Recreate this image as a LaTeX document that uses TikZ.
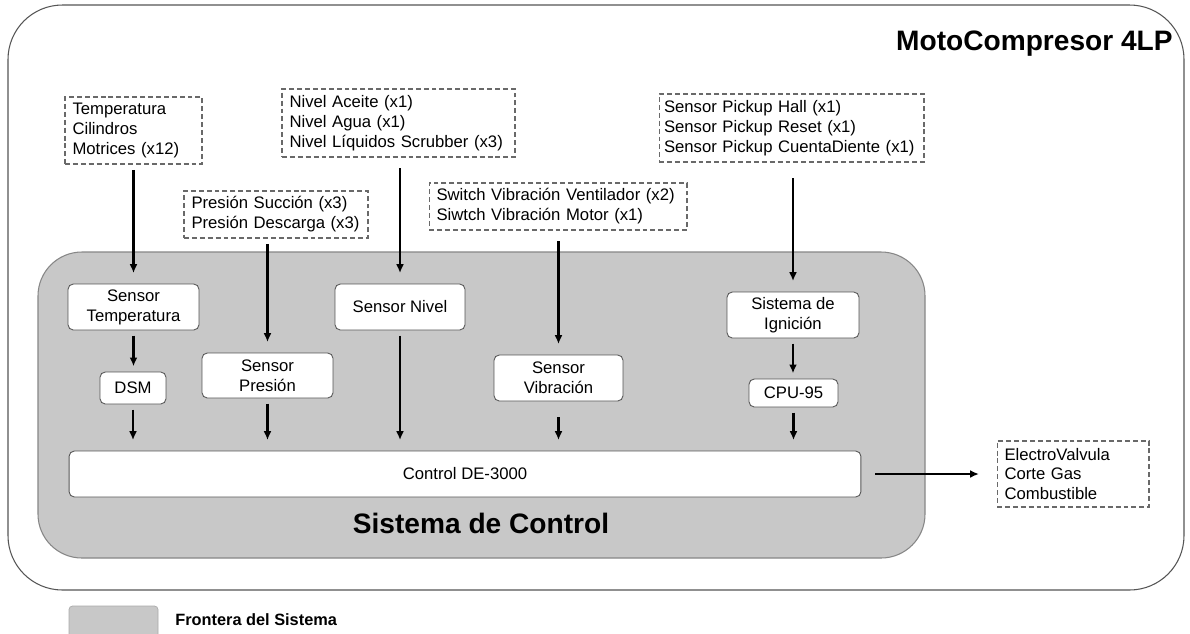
\documentclass[tikz,border=0pt]{standalone}
\usepackage{fontspec}
\setmainfont{Liberation Sans}
\usetikzlibrary{arrows.meta}
\definecolor{frontera}{RGB}{200,200,200}
\definecolor{bordeFrontera}{RGB}{135,135,135}
\definecolor{lineaCaja}{RGB}{85,85,85}
\definecolor{lineaEntrada}{RGB}{105,105,105}

\begin{document}
\begin{tikzpicture}[x=0.02cm, y=-0.02cm, >={Latex[length=5pt,width=4.5pt]},
    texto/.style={font=\fontsize{9.5}{11.3}\selectfont},
    entrada/.style={draw=lineaEntrada, dash pattern=on 2.8pt off 1.7pt, line width=0.6pt,
        align=left, inner xsep=0.15cm, inner ysep=0pt, texto},
    bloque/.style={draw=lineaCaja, fill=white, rounded corners=3pt, line width=0.5pt,
        align=center, inner sep=0pt, texto},
    flecha/.style={->, line width=1.2pt, shorten <=3pt, shorten >=6pt}]
    \useasboundingbox (0,0) rectangle (1190,633);
    \fill[white] (0,0) rectangle (1190,633);

    % Frontera MotoCompresor
    \draw[lineaCaja, line width=0.6pt, rounded corners=31pt] (8,5) rectangle (1184,590);
    \node[anchor=east, inner sep=0pt, font=\bfseries\fontsize{16}{19}\selectfont] (titulo) at (1173,44) {MotoCompresor 4LP};

    % Frontera Sistema de Control
    \draw[bordeFrontera, fill=frontera, line width=0.6pt, rounded corners=25pt] (38,252) rectangle (925,558);
    \node[inner sep=0pt, font=\bfseries\fontsize{16}{19}\selectfont] (sistema) at (481,523) {Sistema de Control};

    % Entradas
    \node[entrada, text width=2.44cm, minimum height=1.34cm] (srcTemp) at (133.5,130.5) {Temperatura\\Cilindros\\Motrices (x12)};
    \node[entrada, text width=4.36cm, minimum height=1.36cm] (srcNivel) at (398.5,123) {Nivel Aceite (x1)\\Nivel Agua (x1)\\Nivel Líquidos Scrubber (x3)};
    \node[entrada, text width=3.38cm, minimum height=0.94cm] (srcPres) at (276,214.5) {Presión Succión (x3)\\Presión Descarga (x3)};
    \node[entrada, text width=4.86cm, minimum height=0.94cm] (srcVib) at (558,206.5) {Switch Vibración Ventilador (x2)\\Siwtch Vibración Motor (x1)};
    \node[entrada, inner xsep=0.1cm, text width=5.10cm, minimum height=1.36cm] (srcPick) at (791.5,128) {Sensor Pickup Hall (x1)\\Sensor Pickup Reset (x1)\\Sensor Pickup CuentaDiente (x1)};
    \node[entrada, text width=2.74cm, minimum height=1.32cm] (valvula) at (1073,474) {ElectroValvula\\Corte Gas\\Combustible};

    % Bloques
    \node[bloque, minimum width=2.62cm, minimum height=0.92cm] (senTemp) at (133.5,307) {Sensor\\Temperatura};
    \node[bloque, minimum width=1.32cm, minimum height=0.64cm] (dsm) at (133,388) {DSM};
    \node[bloque, minimum width=2.62cm, minimum height=0.90cm] (senPres) at (267.5,375.5) {Sensor\\Presión};
    \node[bloque, minimum width=2.60cm, minimum height=0.92cm] (senNivel) at (400,307) {Sensor Nivel};
    \node[bloque, minimum width=2.58cm, minimum height=0.92cm] (senVib) at (558.5,378) {Sensor\\Vibración};
    \node[bloque, minimum width=2.64cm, minimum height=0.92cm] (senIgn) at (793,315) {Sistema de\\Ignición};
    \node[bloque, minimum width=1.78cm, minimum height=0.56cm] (cpu) at (793.5,393) {CPU-95};
    \node[bloque, minimum width=15.84cm, minimum height=0.92cm] (ctrl) at (465,474) {Control DE-3000};

    % Flechas entradas
    \draw[flecha] (srcTemp.south -| senTemp.north) -- (senTemp.north);
    \draw[flecha] (srcPres.south -| senPres.north) -- (senPres.north);
    \draw[flecha, shorten <=6pt] (srcNivel.south -| senNivel.north) -- (senNivel.north);
    \draw[flecha, shorten <=6pt] (srcVib.south -| senVib.north) -- (senVib.north);
    \draw[flecha, shorten <=9pt] (srcPick.south -| senIgn.north) -- (senIgn.north);

    % Flechas internas
    \draw[flecha, shorten >=3pt] (senTemp.south) -- (dsm.north -| senTemp.south);
    \draw[flecha, shorten >=3pt] (senIgn.south) -- (cpu.north -| senIgn.south);
    \draw[flecha] (dsm.south) -- (dsm.south |- ctrl.north);
    \draw[flecha] (senPres.south) -- (senPres.south |- ctrl.north);
    \draw[flecha] (senNivel.south) -- (senNivel.south |- ctrl.north);
    \draw[flecha, shorten <=9pt] (senVib.south) -- (senVib.south |- ctrl.north);
    \draw[flecha] (cpu.south) -- (cpu.south |- ctrl.north);
    \draw[flecha, shorten <=8pt, shorten >=10pt] (ctrl.east) -- (valvula.west);

    % Leyenda
    \draw[bordeFrontera!70, fill=frontera, rounded corners=2pt] (69,606) rectangle (158,640);
    \node[anchor=west, inner sep=0pt, font=\bfseries\fontsize{9.3}{11}\selectfont] (leyenda) at (175,620) {Frontera del Sistema};
\end{tikzpicture}
\end{document}
